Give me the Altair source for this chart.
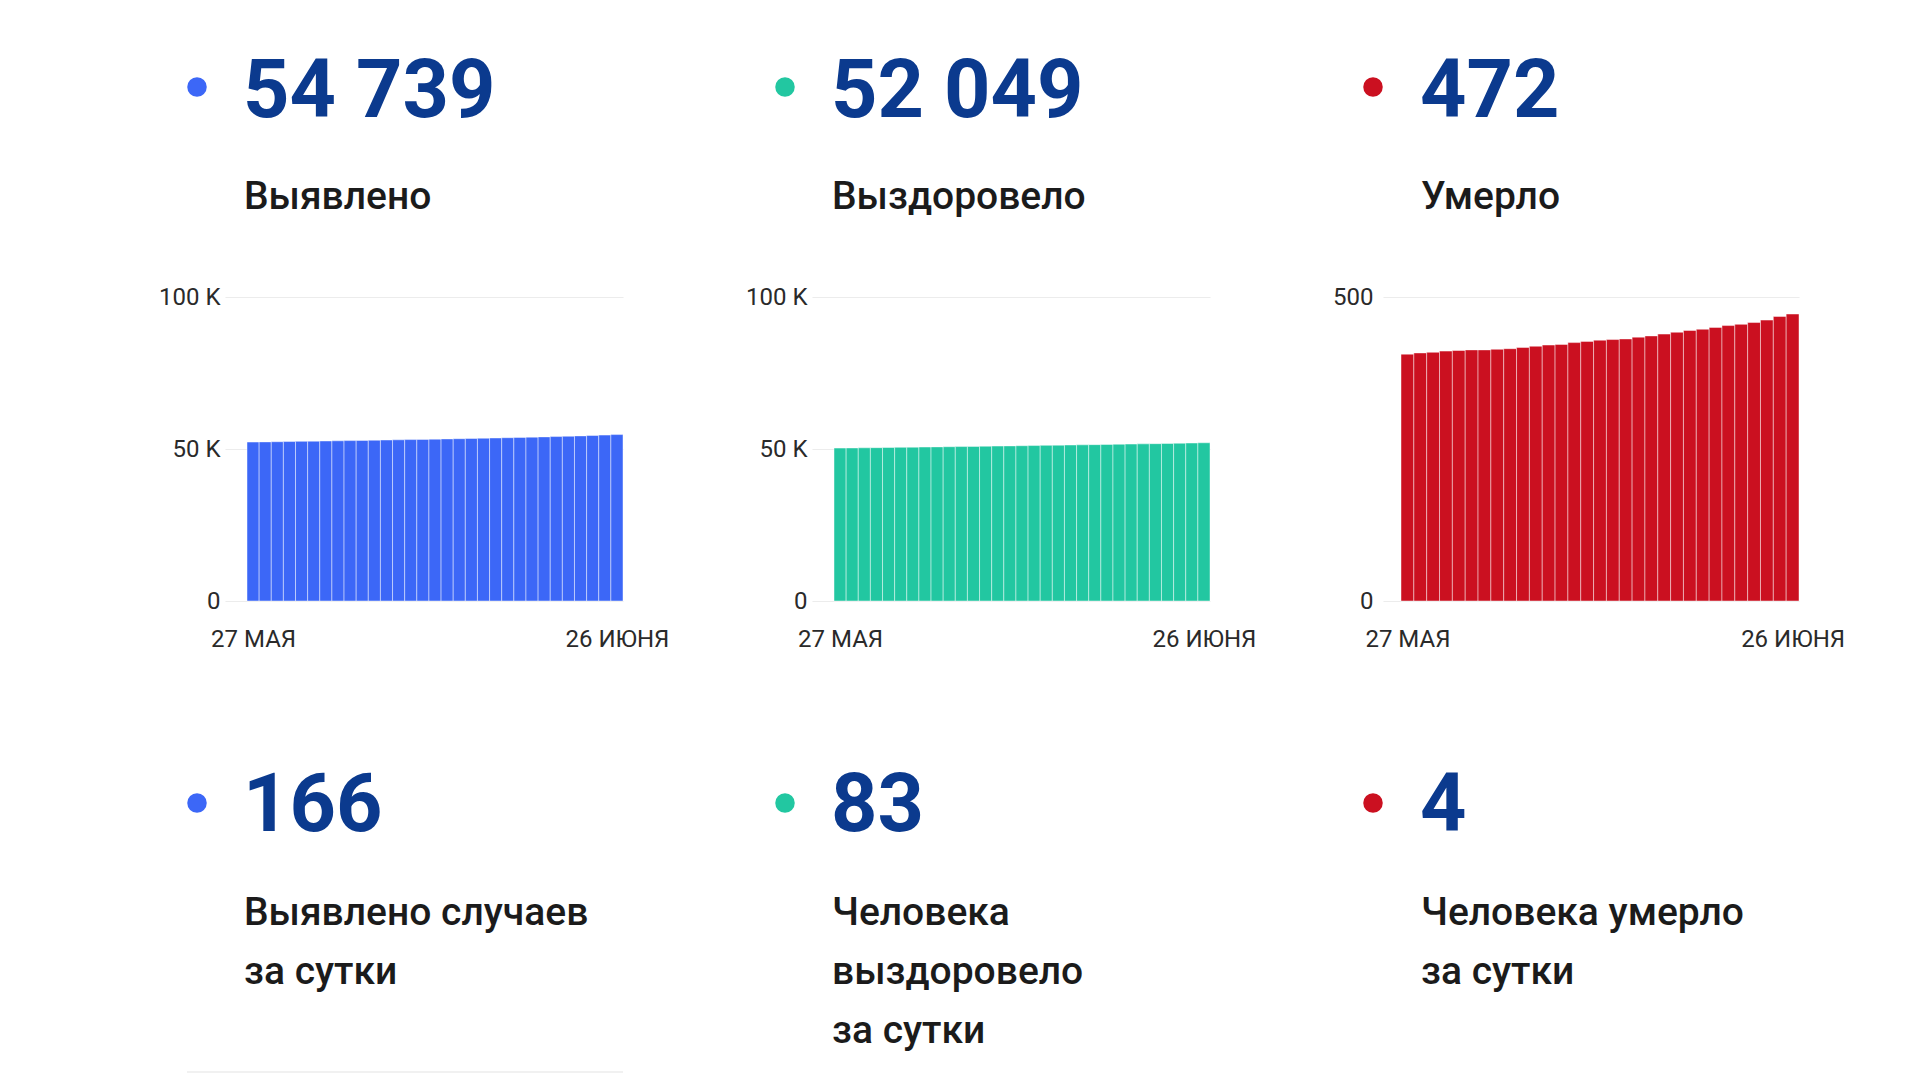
import altair as alt
import pandas as pd

# ---------------- data ----------------
date_labels = ["27 МАЯ", "26 ИЮНЯ"]

cases = [52277, 52334, 52392, 52451, 52511, 52572, 52634, 52697, 52761, 52826,
         52892, 52959, 53027, 53096, 53166, 53238, 53312, 53388, 53466, 53546,
         53628, 53713, 53801, 53893, 53988, 54088, 54193, 54308, 54433, 54573,
         54739]
recovered = [50295, 50343, 50391, 50440, 50490, 50540, 50591, 50643, 50695, 50748,
             50801, 50855, 50910, 50965, 51021, 51078, 51135, 51193, 51252, 51312,
             51372, 51433, 51495, 51558, 51622, 51687, 51753, 51821, 51891, 51966,
             52049]
deaths = [406, 408, 409, 411, 412, 413, 413, 414, 415, 417,
          419, 421, 422, 425, 427, 429, 430, 431, 434, 436,
          439, 442, 445, 447, 450, 453, 455, 458, 462, 468,
          472]

totals = [54739, 52049, 472]
daily = [166, 83, 4]
titles = ["Выявлено", "Выздоровело", "Умерло"]
daily_titles = [["Выявлено случаев", "за сутки"],
                ["Человека", "выздоровело", "за сутки"],
                ["Человека умерло", "за сутки"]]
y_max = [100000, 100000, 500]
y_ticks = [[0, 50000, 100000], [0, 50000, 100000], [0, 500]]

# ---------------- styles / layout ----------------
colors = ["#3c67f7", "#22c7a1", "#cb1020"]
NUM_COLOR = "#0b3a8e"
TEXT_COLOR = "#1b1b1b"
AXIS_COLOR = "#2a2a2a"
FONT = "Roboto"
AXIS_FS = 24

PLOT_H = 304
plot_w = [398, 398, 416]
gap_px = [22, 22, 18]
ylab_pad = [5, 5, 10]
dot_dx = [-28, -27, -10]
num_dx = [18, 19, 37]
lab_dx = [19, 20, 38]

series = [cases, recovered, deaths]


def fmt(v):
    return f"{v:,}".replace(",", " ")


def panel(i):
    vals = series[i]
    n = len(vals)
    df = pd.DataFrame({"day": list(range(n)), "value": vals})
    per_day = (plot_w[i] - gap_px[i]) / n
    gap_days = gap_px[i] / per_day

    if y_max[i] >= 1000:
        ylab = "datum.value == 0 ? '0' : (datum.value / 1000) + ' K'"
    else:
        ylab = "datum.label"
    xlab = f"datum.value == 0 ? '{date_labels[0]}' : '{date_labels[1]}'"

    bars = alt.Chart(df).transform_calculate(
        x0="datum.day - 0.5", x1="datum.day + 0.5"
    ).mark_bar(
        color=colors[i], stroke="white", strokeWidth=1, strokeOpacity=0.45
    ).encode(
        x=alt.X("x0:Q",
                scale=alt.Scale(domain=[-0.5 - gap_days, n - 0.5], nice=False, zero=False),
                axis=alt.Axis(values=[0, n - 1], labelExpr=xlab, title=None, grid=False,
                              ticks=False, tickSize=0, domain=False, labelPadding=26,
                              labelFlush=False, labelOverlap=False,
                              labelFont=FONT, labelFontSize=AXIS_FS, labelColor=AXIS_COLOR)),
        x2="x1:Q",
        y=alt.Y("value:Q",
                scale=alt.Scale(domain=[0, y_max[i]], nice=False),
                axis=alt.Axis(values=y_ticks[i], labelExpr=ylab, title=None, grid=True,
                              gridColor="#ececec", gridWidth=1.2,
                              ticks=False, tickSize=0, domain=False,
                              labelPadding=ylab_pad[i],
                              labelFont=FONT, labelFontSize=AXIS_FS, labelColor=AXIS_COLOR)),
        y2=alt.datum(0),
    )

    one = pd.DataFrame({"k": [0]})
    head_dot = alt.Chart(one).mark_circle(size=380, opacity=1, color=colors[i]).encode(
        x=alt.value(dot_dx[i]), y=alt.value(-210))
    head_num = alt.Chart(pd.DataFrame({"t": [fmt(totals[i])]})).mark_text(
        align="left", baseline="alphabetic", font=FONT, fontSize=81, fontWeight="bold",
        color=NUM_COLOR).encode(x=alt.value(num_dx[i]), y=alt.value(-180), text="t:N")
    head_lab = alt.Chart(pd.DataFrame({"t": [titles[i]]})).mark_text(
        align="left", baseline="alphabetic", font=FONT, fontSize=39, fontWeight=500,
        color=TEXT_COLOR).encode(x=alt.value(lab_dx[i]), y=alt.value(-88), text="t:N")

    foot_dot = alt.Chart(one).mark_circle(size=380, opacity=1, color=colors[i]).encode(
        x=alt.value(dot_dx[i]), y=alt.value(506))
    foot_num = alt.Chart(pd.DataFrame({"t": [fmt(daily[i])]})).mark_text(
        align="left", baseline="alphabetic", font=FONT, fontSize=81, fontWeight="bold",
        color=NUM_COLOR).encode(x=alt.value(num_dx[i]), y=alt.value(534), text="t:N")
    foot_lab = alt.Chart(pd.DataFrame({"t": ["\n".join(daily_titles[i])]})).mark_text(
        align="left", baseline="alphabetic", font=FONT, fontSize=39, fontWeight=500,
        lineBreak="\n", lineHeight=59,
        color=TEXT_COLOR).encode(x=alt.value(lab_dx[i]), y=alt.value(628), text="t:N")

    layers = [bars, head_dot, head_num, head_lab, foot_dot, foot_num, foot_lab]
    if i == 0:
        rule = alt.Chart(one).mark_rule(color="#ececec", strokeWidth=1.5).encode(
            x=alt.value(-38), x2=alt.value(plot_w[i]), y=alt.value(775))
        layers.append(rule)
    return alt.layer(*layers).properties(width=plot_w[i], height=PLOT_H)


chart = alt.hconcat(*[panel(i) for i in range(3)], spacing=76).properties(
    padding={"left": 150, "top": 44, "right": 0, "bottom": 0},
    background="white",
).configure_view(stroke=None)

chart.save("out.html", embed_options={"renderer": "svg", "actions": False})
